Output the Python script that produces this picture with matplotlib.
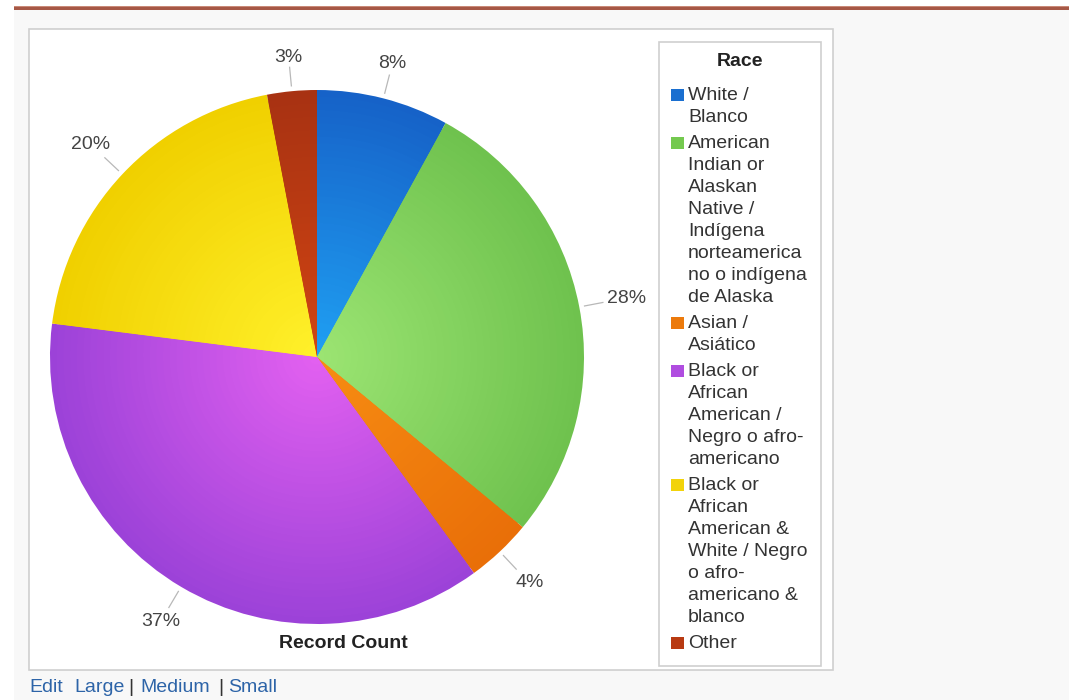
import matplotlib.pyplot as plt
from matplotlib.patches import Rectangle
import numpy as np

plt.rcParams['font.family'] = ['Liberation Sans', 'DejaVu Sans']

# data
races = ["White /\nBlanco",
         "American\nIndian or\nAlaskan\nNative /\nIndígena\nnorteamerica\nno o indígena\nde Alaska",
         "Asian /\nAsiático",
         "Black or\nAfrican\nAmerican /\nNegro o afro-\namericano",
         "Black or\nAfrican\nAmerican &\nWhite / Negro\no afro-\namericano &\nblanco",
         "Other"]
pct = [8, 28, 4, 37, 20, 3]
edge_cols = ["#1662c8", "#6fc24e", "#e96f08", "#9c42d8", "#f0d000", "#a83212"]
center_cols = ["#1f9ff2", "#9be472", "#f78c12", "#e260f0", "#fff02a", "#d04412"]
legend_cols = ["#1a6fd0", "#74c94f", "#ec7a0c", "#b04de0", "#f2d30a", "#b83a12"]
links = ["Edit", "Large", "|", "Medium", "|", "Small"]
link_x = [29, 74, 128, 140, 218, 228]

W, H = 1069, 700
def Y(y):
    return H - y

fig = plt.figure(figsize=(W / 100, H / 100), dpi=100)
ax = fig.add_axes([0, 0, 1, 1])

# page background
ax.add_patch(Rectangle((14, 0), W - 14, Y(10), facecolor="#f8f8f8", edgecolor="none", zorder=0))
ax.add_patch(Rectangle((14, Y(10)), W - 14, 4, facecolor="#a65846", edgecolor="none", zorder=1))
ax.add_patch(Rectangle((14, Y(7)), W - 14, 1.5, facecolor="#c98a78", edgecolor="none", zorder=1))
# chart frame
ax.add_patch(Rectangle((29, Y(670)), 833 - 29, 670 - 29, facecolor="white",
                       edgecolor="#cfcfcf", lw=1.2, zorder=1))

# pie with radial shading
cx, cy, R = 317, Y(357), 267
n = 40
wedges = None
for i in range(n):
    f = i / (n - 1)
    cols = [tuple((1 - f) * np.array(plt.matplotlib.colors.to_rgb(e)) +
                  f * np.array(plt.matplotlib.colors.to_rgb(c)))
            for e, c in zip(edge_cols, center_cols)]
    w, _ = ax.pie(pct, colors=cols, startangle=90, counterclock=False,
                  center=(cx, cy), radius=R * (1 - 0.97 * f),
                  wedgeprops=dict(linewidth=0, antialiased=True))
    if wedges is None:
        wedges = w

# percent labels with leader lines
for w, p in zip(wedges, pct):
    t = np.deg2rad((w.theta1 + w.theta2) / 2)
    c, s = np.cos(t), np.sin(t)
    ax.plot([cx + 1.02 * R * c, cx + 1.09 * R * c], [cy + 1.02 * R * s, cy + 1.09 * R * s],
            color="#b8b8b8", lw=0.9, zorder=3)
    rl = 1.12 + 0.06 * abs(c)
    ax.text(cx + rl * R * c, cy + rl * R * s, f"{p}%", fontsize=14, color="#444444",
            ha="center", va="center", zorder=4)

ax.text(343, Y(643), "Record Count", fontsize=14, fontweight="bold", color="#222222",
        ha="center", va="center")

# legend
ax.add_patch(Rectangle((659, Y(666)), 821 - 659, 666 - 42, facecolor="white",
                       edgecolor="#cfcfcf", lw=1.2, zorder=2))
ax.text(740, Y(62), "Race", fontsize=14, fontweight="bold", color="#222222",
        ha="center", va="center", zorder=3)
y = 95
for lab, col in zip(races, legend_cols):
    ax.add_patch(Rectangle((671, Y(y + 6)), 13, 12, facecolor=col, edgecolor="none", zorder=3))
    for line in lab.split("\n"):
        ax.text(688, Y(y), line, fontsize=14, color="#333333", ha="left", va="center", zorder=3)
        y += 22
    y += 4

# links under chart
for txt, x in zip(links, link_x):
    ax.text(x, Y(687), txt, fontsize=14, color="#333333" if txt == "|" else "#2d64a8",
            ha="left", va="center")

ax.set_xlim(0, W)
ax.set_ylim(0, H)
ax.set_aspect("equal")
ax.axis("off")
fig.savefig("out.png", dpi=100, facecolor="white")
